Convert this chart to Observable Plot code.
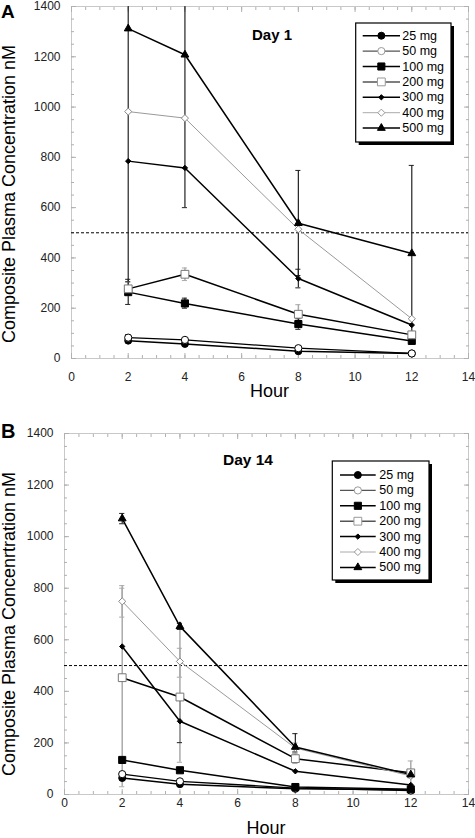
<!DOCTYPE html>
<html><head><meta charset="utf-8">
<script src="https://cdn.jsdelivr.net/npm/d3@7"></script>
<script src="https://cdn.jsdelivr.net/npm/@observablehq/plot@0.6"></script>
<style>
body{margin:0;background:#fff;font-family:"Liberation Sans",Arial,sans-serif}
#c{width:475px}
#c svg{display:block}
</style>
</head><body><div id="c"></div>
<script>
// ---------- data ----------
const hours = [2, 4, 8, 12];
const doses = ["25 mg", "50 mg", "100 mg", "200 mg", "300 mg", "400 mg", "500 mg"];

// Day 1 mean concentrations (nM)
const day1_25mg  = [71, 58, 29, 20];
const day1_50mg  = [83, 74, 41, 20];
const day1_100mg = [264, 219, 137, 70];
const day1_200mg = [277, 335, 176, 94];
const day1_300mg = [785, 758, 318, 133];
const day1_400mg = [982, 956, 514, 158];
const day1_500mg = [1312, 1208, 538, 418];

// Day 14 mean concentrations (nM)
const day14_25mg  = [64, 40, 22, 18];
const day14_50mg  = [79, 51, 25, 15];
const day14_100mg = [134, 94, 29, 20];
const day14_200mg = [453, 378, 139, 84];
const day14_300mg = [574, 284, 90, 37];
const day14_400mg = [749, 516, 180, 72];
const day14_500mg = [1070, 652, 184, 77];

// error bars (dose, hour, low, high)
const day1ErrDose = ["500 mg","500 mg","500 mg","500 mg","300 mg","200 mg","200 mg","200 mg","200 mg","100 mg","100 mg","100 mg","50 mg"];
const day1ErrHour = [2, 4, 8, 12, 8, 2, 4, 8, 12, 2, 4, 8, 2];
const day1ErrLow  = [305, 600, 330, 68, 281, 250, 310, 150, 80, 215, 200, 116, 75];
const day1ErrHigh = [2320, 1816, 748, 768, 355, 305, 360, 214, 108, 315, 240, 158, 95];

const day14ErrDose = ["500 mg","500 mg","500 mg","500 mg","400 mg","400 mg","400 mg","300 mg","200 mg","200 mg","200 mg","200 mg"];
const day14ErrHour = [2, 4, 8, 12, 2, 4, 8, 4, 2, 4, 8, 12];
const day14ErrLow  = [1050, 640, 165, 65, 688, 455, 160, 201, 30, 125, 120, 40];
const day14ErrHigh = [1090, 664, 236, 89, 810, 567, 200, 367, 800, 650, 160, 130];

const xTicks = [0, 2, 4, 6, 8, 10, 12, 14];
const yTicks = [0, 200, 400, 600, 800, 1000, 1200, 1400];
const thresholdNM = 500;

// ---------- styles ----------
const seriesStyle = {
  "25 mg":  {symbol: "circle",   fill: "#000", stroke: "#000", r: 3.5, line: "#000", lw: 1.5, leg: "#000"},
  "50 mg":  {symbol: "circle",   fill: "#fff", stroke: "#000", r: 3.6, line: "#000", lw: 1.3, leg: "#555"},
  "100 mg": {symbol: "square",   fill: "#000", stroke: "#000", r: 4.0, line: "#000", lw: 1.5, leg: "#000"},
  "200 mg": {symbol: "square",   fill: "#fff", stroke: "#777", r: 4.4, line: "#000", lw: 1.5, leg: "#555"},
  "300 mg": {symbol: "diamond2", fill: "#000", stroke: "#000", r: 2.4, line: "#000", lw: 1.5, leg: "#000"},
  "400 mg": {symbol: "diamond2", fill: "#fff", stroke: "#888", r: 3.2, line: "#9a9a9a", lw: 1, leg: "#aaa"},
  "500 mg": {symbol: "triangle", fill: "#000", stroke: "#000", r: 2.9, line: "#000", lw: 1.5, leg: "#000"}
};
const errColor = d => (d === "200 mg" || d === "400 mg") ? "#aaa" : "#222";
const symbolMap = {circle: d3.symbolCircle, square: d3.symbolSquare, diamond2: d3.symbolDiamond2, triangle: d3.symbolTriangle};

function buildRows(seriesArrays) {
  const rows = [];
  doses.forEach((dose, i) => hours.forEach((h, j) => rows.push({dose, hour: h, value: seriesArrays[i][j]})));
  return rows;
}
function buildErr(ds, hs, lo, hi) {
  return ds.map((d, i) => ({dose: d, hour: hs[i], lo: lo[i], hi: hi[i]}));
}

const font = "'Liberation Sans', Arial, sans-serif";

function panel(cfg) {
  const rows = buildRows(cfg.series);
  const err = cfg.err;
  const minorX = d3.range(0, 14.01, 0.5);
  const minorY = d3.range(0, 1401, 50);
  const tickStroke = "#b0b0b0";
  const marks = [
    Plot.frame({stroke: "#c8c8c8"}),
    Plot.axisX(minorX, {anchor: "bottom", tickSize: -3, tickFormat: () => "", stroke: tickStroke, label: null}),
    Plot.axisX(minorX, {anchor: "top", tickSize: -3, tickFormat: () => "", stroke: tickStroke, label: null}),
    Plot.axisX(xTicks, {anchor: "bottom", tickSize: -5, tickFormat: () => "", stroke: tickStroke, label: null}),
    Plot.axisX(xTicks, {anchor: "top", tickSize: -5, tickFormat: () => "", stroke: tickStroke, label: null}),
    Plot.axisY(minorY, {anchor: "left", tickSize: -3, tickFormat: () => "", stroke: tickStroke, label: null}),
    Plot.axisY(minorY, {anchor: "right", tickSize: -3, tickFormat: () => "", stroke: tickStroke, label: null}),
    Plot.axisY(yTicks, {anchor: "left", tickSize: -5, tickFormat: () => "", stroke: tickStroke, label: null}),
    Plot.axisY(yTicks, {anchor: "right", tickSize: -5, tickFormat: () => "", stroke: tickStroke, label: null}),
    Plot.axisX(xTicks, {anchor: "bottom", tickSize: 0, tickPadding: cfg.xPad, tickFormat: d => String(d), label: null, fill: "#222"}),
    Plot.axisY(yTicks, {anchor: "left", tickSize: 0, tickPadding: 11, tickFormat: d => String(d), label: null, fill: "#222"}),
    Plot.ruleY([thresholdNM], {stroke: "#000", strokeWidth: 1, strokeDasharray: "3,2"}),
    Plot.ruleX(err, {x: "hour", y1: "lo", y2: "hi", stroke: d => errColor(d.dose), strokeWidth: d => errColor(d.dose) === "#aaa" ? 1.5 : 1.2, clip: true}),
    Plot.ruleY(err, {y: "hi", x1: d => d.hour - 0.09, x2: d => d.hour + 0.09, stroke: d => errColor(d.dose), clip: true}),
    Plot.ruleY(err, {y: "lo", x1: d => d.hour - 0.09, x2: d => d.hour + 0.09, stroke: d => errColor(d.dose), clip: true})
  ];
  doses.forEach(dose => {
    const s = seriesStyle[dose];
    const data = rows.filter(r => r.dose === dose);
    marks.push(Plot.line(data, {x: "hour", y: "value", stroke: s.line, strokeWidth: s.lw}));
  });
  doses.forEach(dose => {
    const s = seriesStyle[dose];
    const data = rows.filter(r => r.dose === dose);
    marks.push(Plot.dot(data, {x: "hour", y: "value", symbol: s.symbol, r: s.r, fill: s.fill, stroke: s.stroke, strokeWidth: 1}));
  });
  const svg = Plot.plot({
    width: 475, height: cfg.height,
    marginTop: cfg.mt, marginBottom: cfg.mb, marginLeft: cfg.ml, marginRight: cfg.mr,
    x: {domain: [0, 14]},
    y: {domain: [0, 1400]},
    style: {fontFamily: font, fontSize: "12px", color: "#222", background: "#fff"},
    marks
  });
  const g = d3.select(svg);
  const txt = (sel) => sel.attr("font-family", font).attr("fill", "#000");
  // panel letter
  txt(g.append("text")).attr("x", 1).attr("y", cfg.letterY).attr("text-anchor", "start").attr("font-weight", "bold")
    .attr("font-size", cfg.letterSize).text(cfg.letter);
  // day label
  txt(g.append("text")).attr("x", cfg.dayX).attr("y", cfg.dayY).attr("text-anchor", "start").attr("font-weight", "bold")
    .attr("font-size", cfg.daySize).text(cfg.day);
  // y title
  txt(g.append("text")).attr("transform", `translate(${cfg.yTitleX},${cfg.yTitleY}) rotate(-90)`)
    .attr("text-anchor", "middle").attr("dominant-baseline", "central")
    .attr("font-size", 18).text(cfg.yTitle);
  // x title
  txt(g.append("text")).attr("x", cfg.xTitleX).attr("y", cfg.xTitleY).attr("text-anchor", "middle")
    .attr("font-size", 18).text("Hour");
  // legend
  const L = cfg.legend;
  const lg = g.append("g");
  lg.append("rect").attr("x", L.x + 3).attr("y", L.y + 3).attr("width", L.w).attr("height", L.h).attr("fill", "#000");
  lg.append("rect").attr("x", L.x).attr("y", L.y).attr("width", L.w).attr("height", L.h).attr("fill", "#fff").attr("stroke", "#000").attr("stroke-width", 1.2);
  doses.forEach((dose, i) => {
    const s = seriesStyle[dose];
    const yy = L.row0 + i * L.step;
    lg.append("line").attr("x1", L.lx1).attr("x2", L.lx2).attr("y1", yy).attr("y2", yy)
      .attr("stroke", s.leg).attr("stroke-width", s.lw);
    const sym = symbolMap[s.symbol];
    const size = Math.PI * s.r * s.r;
    lg.append("path").attr("d", d3.symbol(sym, size)()).attr("transform", `translate(${(L.lx1 + L.lx2) / 2},${yy})`)
      .attr("fill", s.fill).attr("stroke", s.fill === "#fff" ? "#999" : s.stroke).attr("stroke-width", 1);
    txt(lg.append("text")).attr("x", L.tx).attr("y", yy).attr("text-anchor", "start").attr("dominant-baseline", "central")
      .attr("font-size", 12.5).text(dose);
  });
  return svg;
}

const day1Series = [day1_25mg, day1_50mg, day1_100mg, day1_200mg, day1_300mg, day1_400mg, day1_500mg];
const day14Series = [day14_25mg, day14_50mg, day14_100mg, day14_200mg, day14_300mg, day14_400mg, day14_500mg];

const root = document.getElementById("c");
root.appendChild(panel({
  series: day1Series,
  err: buildErr(day1ErrDose, day1ErrHour, day1ErrLow, day1ErrHigh),
  height: 400, mt: 6, mb: 42, ml: 71, mr: 7, xPad: 14,
  letter: "A", letterY: 18, letterSize: 19,
  day: "Day 1", dayX: 252, dayY: 40, daySize: 15,
  yTitle: "Composite Plasma Concentration nM", yTitleX: 9, yTitleY: 194,
  xTitleX: 269.5, xTitleY: 397,
  legend: {x: 355.7, y: 23, w: 95.3, h: 119, row0: 35.7, step: 15.4, lx1: 362.7, lx2: 400, tx: 402.3}
}));
root.appendChild(panel({
  series: day14Series,
  err: buildErr(day14ErrDose, day14ErrHour, day14ErrLow, day14ErrHigh),
  height: 438, mt: 33, mb: 44, ml: 64, mr: 7, xPad: 4,
  letter: "B", letterY: 38, letterSize: 20,
  day: "Day 14", dayX: 223, dayY: 65, daySize: 15.5,
  yTitle: "Composite Plasma Concenrtration nM", yTitleX: 9, yTitleY: 224,
  xTitleX: 266, xTitleY: 434,
  legend: {x: 332.3, y: 61, w: 96.7, h: 119, row0: 75, step: 15.4, lx1: 340, lx2: 375.7, tx: 379.3}
}));
</script>
</body></html>
